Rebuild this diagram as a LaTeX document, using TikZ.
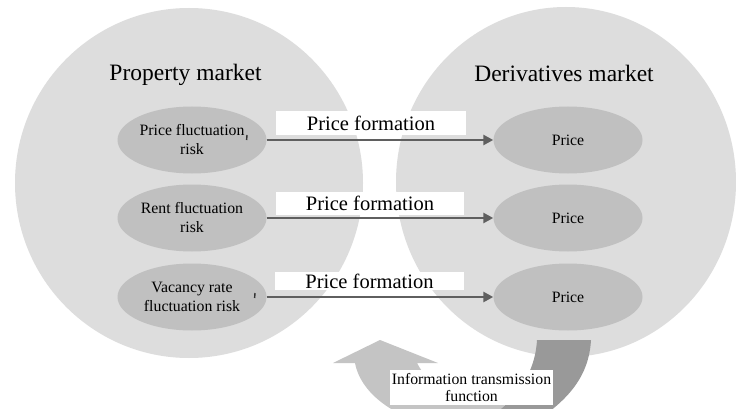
\documentclass[tikz,border=0pt]{standalone}
\usepackage{fontspec}
\setmainfont{Liberation Serif}
\usetikzlibrary{shapes.geometric,arrows.meta}
\definecolor{bigfill}{RGB}{221,221,221}
\definecolor{smallfill}{RGB}{192,192,192}
\definecolor{lightband}{RGB}{196,196,196}
\definecolor{darkband}{RGB}{153,153,153}
\definecolor{arrowcol}{RGB}{95,95,95}
\begin{document}
\begin{tikzpicture}[x=1pt,y=-1pt,
  market/.style={ellipse, fill=bigfill, inner sep=0pt},
  risk/.style={ellipse, fill=smallfill, minimum width=149pt, minimum height=67pt, inner sep=0pt, align=center, font=\fontsize{15.8}{19}\selectfont},
  pricebox/.style={fill=white, inner sep=0pt, font=\fontsize{20.5}{24}\selectfont},
  infobox/.style={fill=white, inner sep=0pt, minimum width=163pt, minimum height=35pt, align=center, font=\fontsize{15.8}{17}\selectfont},
  title/.style={font=\fontsize{23.5}{28}\selectfont, anchor=base},
  flow/.style={draw=arrowcol, line width=2.8pt, -{Triangle[length=10pt,width=10pt]}},
  tick/.style={draw=black!80, line width=1.4pt}
]
\clip (0,0) rectangle (736,409);
\fill[white] (0,0) rectangle (736,409);
% market circles
\node[market, minimum width=348pt, minimum height=350pt] (pm) at (189,183) {};
\node[market, minimum width=340pt, minimum height=350pt] (dm) at (566,182) {};
% circular information arrows
\fill[lightband] (333,363) -- (380,340) -- (438,363) -- (417,363)
  .. controls (430,388) and (455,400) .. (495,402) -- (560,425) -- (540,450) -- (470,432)
  .. controls (410,428) and (362,400) .. (355,363) -- cycle;
\fill[darkband] (537,340) -- (591,340) .. controls (589,375) and (570,400) .. (530,425)
  -- (480,425) .. controls (515,402) and (535,375) .. (537,340) -- cycle;
% titles
\node[title] (pmt) at (185.5,81) {Property market};
\node[title] (dmt) at (564,82) {Derivatives market};
% inner ellipses
\node[risk] (r1) at (192,140) {Price fluctuation\\risk};
\node[risk] (r2) at (192,218) {Rent fluctuation\\risk};
\node[risk] (r3) at (192,297) {Vacancy rate\\fluctuation risk};
\node[risk] (p1) at (568,140) {Price};
\node[risk] (p2) at (568,218) {Price};
\node[risk] (p3) at (568,297) {Price};
% small marks
\draw[tick] (247,135) -- (246.6,140);
\draw[tick] (255,293) -- (254.6,298);
% arrows
\draw[flow] (r1.east) -- (p1.west);
\draw[flow] (r2.east) -- (p2.west);
\draw[flow] (r3.east) -- (p3.west);
% labels
\node[pricebox, minimum width=190pt, minimum height=24pt] (b1) at (371,123) {Price formation};
\node[pricebox, minimum width=188pt, minimum height=23pt] (b2) at (370,203.5) {Price formation};
\node[pricebox, minimum width=189pt, minimum height=18pt] (b3) at (369.5,281) {Price formation};
\node[infobox] (info) at (471.5,387.5) {Information transmission\\function};
\end{tikzpicture}
\end{document}
